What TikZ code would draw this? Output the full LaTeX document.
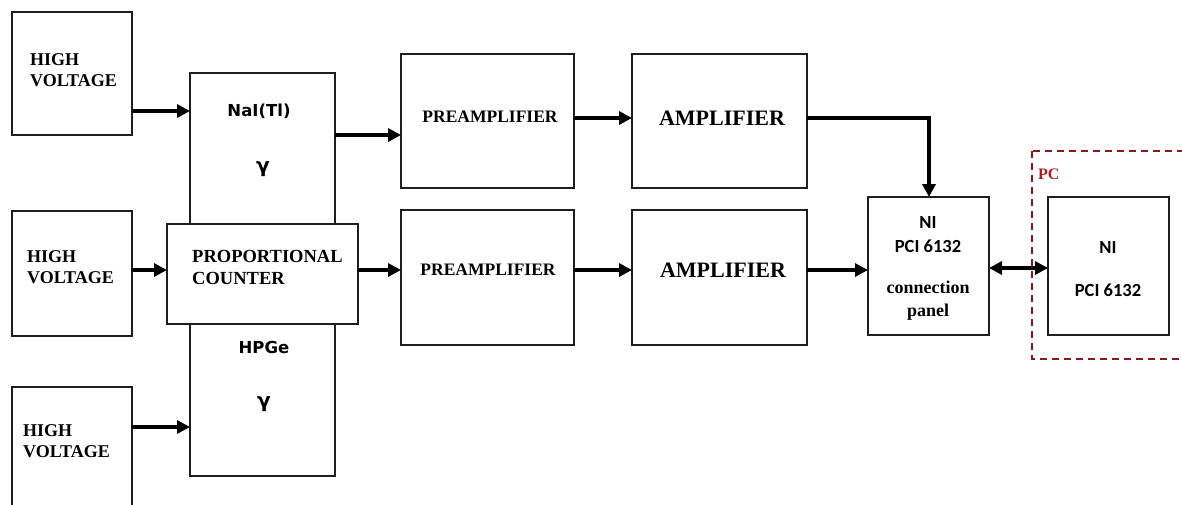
\documentclass[tikz,border=0pt]{standalone}
\usepackage{fontspec}
\setmainfont{Liberation Serif}
\newfontfamily\dvsans{DejaVu Sans}
\newfontfamily\carl{Carlito}
\usetikzlibrary{arrows.meta,calc}
\definecolor{boxline}{RGB}{30,30,30}
\definecolor{pcred}{RGB}{170,30,35}
\begin{document}
\begin{tikzpicture}[x=1pt,y=-1pt,
  box/.style={draw=boxline,line width=1.3pt,inner sep=0pt,outer sep=0pt,fill=white},
  arr/.style={line width=3.8pt,-{Triangle[length=13pt,width=13pt]}},
  darr/.style={line width=3.8pt,{Triangle[length=13pt,width=13pt]}-{Triangle[length=13pt,width=13pt]}},
  hvtext/.style={font=\bfseries\fontsize{18}{21}\selectfont,align=left,inner sep=0pt,anchor=west},
  ptext/.style={font=\bfseries\fontsize{17.5}{21}\selectfont,inner sep=0pt},
  atext/.style={font=\bfseries\fontsize{22}{24}\selectfont,inner sep=0pt},
  stext/.style={font=\dvsans\bfseries\fontsize{16.5}{19}\selectfont,inner sep=0pt},
  gtext/.style={font=\dvsans\bfseries\fontsize{20}{22}\selectfont,inner sep=0pt},
  ctext/.style={font=\carl\bfseries\fontsize{18.5}{20}\selectfont,inner sep=0pt},
  cstext/.style={font=\bfseries\fontsize{18}{20}\selectfont,inner sep=0pt},
]
\useasboundingbox[fill=white] (0,0) rectangle (1182,504);

% high voltage boxes
\node[box,minimum width=120pt,minimum height=123pt] (hv1) at (72,73.5) {};
\node[box,minimum width=120pt,minimum height=125pt] (hv2) at (72,273.5) {};
\node[box,minimum width=120pt,minimum height=133pt] (hv3) at (72,453.5) {};
\node[hvtext] (hv1t) at (30,70.5) {HIGH\\VOLTAGE};
\node[hvtext] (hv2t) at (27,267) {HIGH\\VOLTAGE};
\node[hvtext] (hv3t) at (23,441) {HIGH\\VOLTAGE};

% detectors
\node[box,minimum width=145pt,minimum height=167pt] (nai) at (262.5,156.5) {};
\node[box,minimum width=145pt,minimum height=176pt] (hpge) at (262.5,388) {};
\node[box,minimum width=191pt,minimum height=100pt] (pc) at (262.5,274) {};
\node[stext] (nait) at (259,111) {NaI(Tl)};
\node[gtext] (naig) at (263,169) {γ};
\node[stext] (hpget) at (264,347) {HPGe};
\node[gtext] (hpgeg) at (264,404) {γ};
\node[hvtext,font=\bfseries\fontsize{18.5}{22}\selectfont] (pct) at (192,267) {PROPORTIONAL\\COUNTER};

% preamplifiers and amplifiers
\node[box,minimum width=173pt,minimum height=134pt] (pre1) at (487.5,121) {};
\node[box,minimum width=175pt,minimum height=134pt] (amp1) at (719.5,121) {};
\node[box,minimum width=173pt,minimum height=135pt] (pre2) at (487.5,277.5) {};
\node[box,minimum width=175pt,minimum height=135pt] (amp2) at (719.5,277.5) {};
\node[ptext] (pre1t) at (490,117) {PREAMPLIFIER};
\node[ptext] (pre2t) at (488,270) {PREAMPLIFIER};
\node[atext] (amp1t) at (722,118) {AMPLIFIER};
\node[atext] (amp2t) at (723,270) {AMPLIFIER};

% connection panel
\node[box,minimum width=121pt,minimum height=138pt] (panel) at (928.5,266) {};
\node[ctext] (pan1) at (928,222) {NI};
\node[ctext] (pan2) at (928,246) {PCI 6132};
\node[cstext] (pan3) at (928,287) {connection};
\node[cstext] (pan4) at (928,312) {panel};

% PC
\draw[pcred!80!black,line width=1.3pt,dash pattern=on 7pt off 5pt] (1032,151) rectangle (1200,359);
\node[font=\bfseries\fontsize{16}{18}\selectfont,text=pcred,inner sep=0pt,anchor=west] (pclab) at (1038,174) {PC};
\node[box,minimum width=121pt,minimum height=138pt] (ni) at (1108.5,266) {};
\node[ctext] (ni1) at (1108,247) {NI};
\node[ctext] (ni2) at (1108,290) {PCI 6132};

% helper coordinates for connector heights
\coordinate (y111) at (0,111);
\coordinate (y135) at (0,135);
\coordinate (y118) at (0,118);
\coordinate (y270) at (0,270);
\coordinate (y268) at (0,268);
\coordinate (y427) at (0,427);
\coordinate (bend) at (929,118);

% connectors
\draw[arr] (hv1.east |- y111) -- (nai.west |- y111);
\draw[arr] (hv2.east |- y270) -- (pc.west |- y270);
\draw[arr] (hv3.east |- y427) -- (hpge.west |- y427);
\draw[arr] (nai.east |- y135) -- (pre1.west |- y135);
\draw[arr] (pc.east |- y270) -- (pre2.west |- y270);
\draw[arr] (pre1.east |- y118) -- (amp1.west |- y118);
\draw[arr] (pre2.east |- y270) -- (amp2.west |- y270);
\draw[arr] (amp1.east |- y118) -- (bend) -- (bend |- panel.north);
\draw[arr] (amp2.east |- y270) -- (panel.west |- y270);
\draw[darr] (panel.east |- y268) -- (ni.west |- y268);
\end{tikzpicture}
\end{document}
